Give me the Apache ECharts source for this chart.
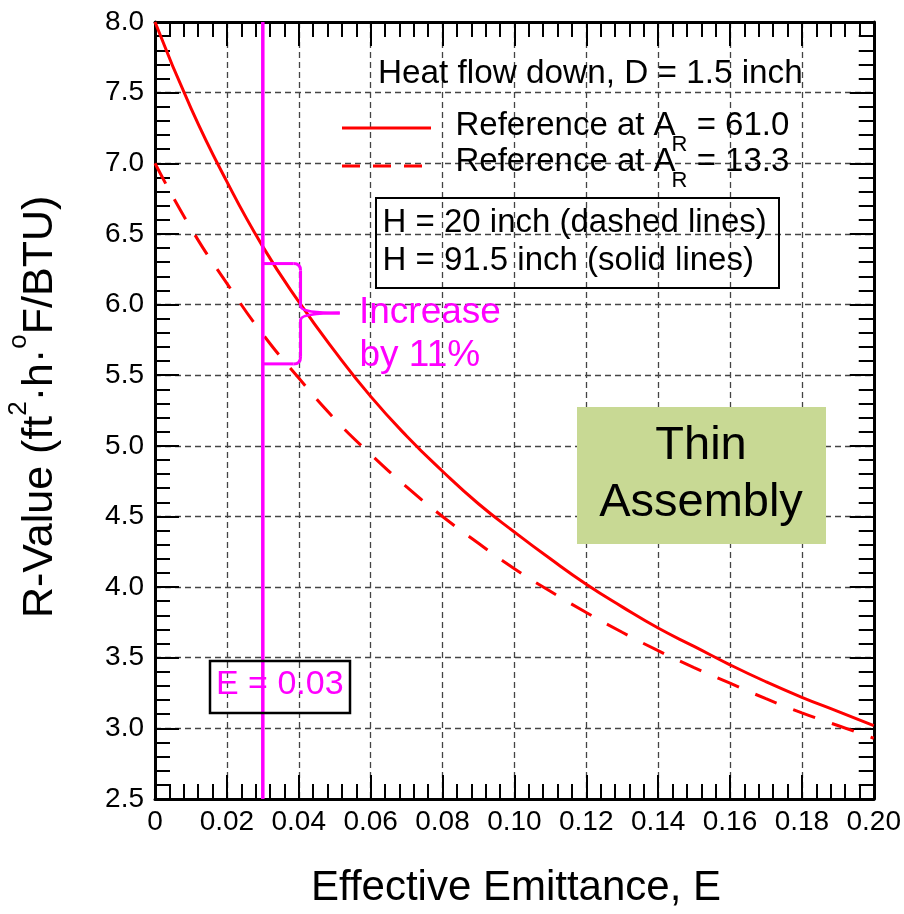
<!DOCTYPE html>
<html><head><meta charset="utf-8">
<script src="https://cdn.jsdelivr.net/npm/echarts@6/dist/echarts.min.js"></script>
<style>html,body{margin:0;padding:0;background:#fff}#c{width:904px;height:914px}</style>
</head><body><div id="c"></div>
<script>
// ---- data ----
const emittance = [0,0.01,0.02,0.03,0.04,0.05,0.06,0.07,0.08,0.09,0.10,0.11,0.12,0.13,0.14,0.15,0.16,0.17,0.18,0.19,0.20];
const rSolid  = [8.00,7.39,6.87,6.41,6.02,5.67,5.35,5.07,4.82,4.59,4.39,4.20,4.02,3.86,3.71,3.58,3.45,3.33,3.22,3.12,3.02];
const rDashed = [7.00,6.54,6.15,5.79,5.48,5.19,4.94,4.71,4.50,4.31,4.13,3.97,3.82,3.68,3.55,3.43,3.32,3.21,3.11,3.02,2.93];
const xMin = 0, xMax = 0.20, xStep = 0.02;
const yMin = 2.5, yMax = 8.0, yStep = 0.5;
const markE = 0.03;
const bracketE = [0.03, 0.0405, 0.0514];   // start, spine, tip
const bracketR = [6.29, 5.94, 5.58];       // top, tip, bottom

const FONT = '"Liberation Sans", Arial, Helvetica, sans-serif';
const RED = '#ff0000', MAG = '#ff00ff';

const chart = echarts.init(document.getElementById('c'), null, {renderer:'canvas'});
const ctx = document.createElement('canvas').getContext('2d');
function tw(t, s){ ctx.font = s + 'px "Liberation Sans"'; return ctx.measureText(t).width; }
function txt(t, x, y, s, color, align){
  return {type:'text', x:x, y:y, z:100, style:{text:t, fontSize:s, fontFamily:FONT, fill:color||'#000',
    align:align||'left', verticalAlign:'middle', textAlign:align||'left', textVerticalAlign:'middle'}};
}
function run(parts, x, y, color){
  const out = []; let cx = x;
  parts.forEach(p => { out.push(txt(p[0], cx + (p[3]||0), y + (p[2]||0), p[1], color)); cx += tw(p[0], p[1]) + (p[3]||0); });
  return out;
}

const axisCommon = {
  axisLine:{show:true, onZero:false, lineStyle:{color:'#000', width:3}},
  axisTick:{show:true, inside:true, length:24, lineStyle:{color:'#000', width:2}},
  minorTick:{show:true, splitNumber:5, length:15, lineStyle:{color:'#000', width:2}},
};
const labelStyle = {color:'#000', fontSize:28, fontFamily:FONT};

const option = {
  backgroundColor:'#fff',
  animation:false,
  grid:{left:155, top:22, width:719, height:777, containLabel:false},
  xAxis:[
    Object.assign({type:'value', min:xMin, max:xMax, interval:xStep, position:'bottom',
      axisLabel:Object.assign({margin:9, formatter:v => v === 0 ? '0' : v.toFixed(2)}, labelStyle),
      splitLine:{show:true, lineStyle:{color:'#444', width:1.3, type:[6,4]}}}, axisCommon),
    Object.assign({type:'value', min:xMin, max:xMax, interval:xStep, position:'top',
      axisLabel:{show:false}, splitLine:{show:false}}, axisCommon)
  ],
  yAxis:[
    Object.assign({type:'value', min:yMin, max:yMax, interval:yStep, position:'left',
      axisLabel:Object.assign({margin:11, formatter:v => v.toFixed(1)}, labelStyle),
      splitLine:{show:true, lineStyle:{color:'#444', width:1.3, type:[6,4]}}}, axisCommon),
    Object.assign({type:'value', min:yMin, max:yMax, interval:yStep, position:'right',
      axisLabel:{show:false}, splitLine:{show:false}}, axisCommon)
  ],
  series:[
    {type:'line', data:emittance.map((e,i)=>[e, rSolid[i]]), smooth:true, showSymbol:false, z:5,
      lineStyle:{color:RED, width:3}},
    {type:'line', data:emittance.map((e,i)=>[e, rDashed[i]]), smooth:true, showSymbol:false, z:5,
      lineStyle:{color:RED, width:3, type:[23,18]}},
    {type:'line', data:[[markE, yMin],[markE, yMax]], showSymbol:false, z:6,
      lineStyle:{color:MAG, width:3.5}}
  ]
};
chart.setOption(option);

const P = (x,y) => chart.convertToPixel({gridIndex:0}, [x,y]);
const x0 = P(bracketE[0], 0)[0], xs = P(bracketE[1],0)[0], xt = P(bracketE[2],0)[0];
const yT = P(0, bracketR[0])[1], yM = P(0, bracketR[1])[1], yB = P(0, bracketR[2])[1];
const r = 7;
const bs = {fill:'none', stroke:MAG, lineWidth:3};
function ln(a,b,c,d){ return {type:'line', z:100, shape:{x1:a,y1:b,x2:c,y2:d}, style:bs}; }
function bz(a,b,c,d,e,f){ return {type:'bezierCurve', z:100, shape:{x1:a,y1:b,cpx1:c,cpy1:d,x2:e,y2:f}, style:bs}; }

const g = [];
// Thin Assembly box
g.push({type:'rect', z:90, shape:{x:577, y:407, width:249, height:137}, style:{fill:'#c8d994'}});
g.push(txt('Thin', 701, 446, 47, '#000', 'center'));
g.push(txt('Assembly', 701, 503, 47, '#000', 'center'));
// Heat flow title
g.push(txt('Heat flow down, D = 1.5 inch', 378, 73.5, 33.3));
// legend lines
g.push({type:'line', z:100, shape:{x1:342, y1:128, x2:431, y2:128}, style:{stroke:RED, lineWidth:3}});
g.push({type:'line', z:100, shape:{x1:342, y1:166, x2:431, y2:166}, style:{stroke:RED, lineWidth:3, lineDash:[18,13]}});
run([['Reference at A',33],['R',22,19,-4],[' = 61.0',33]], 455.5, 125.5).forEach(e=>g.push(e));
run([['Reference at A',33],['R',22,19,-4],[' = 13.3',33]], 455.5, 162).forEach(e=>g.push(e));
// H box
g.push({type:'rect', z:100, shape:{x:376, y:198, width:403, height:90}, style:{fill:'none', stroke:'#000', lineWidth:2}});
g.push(txt('H = 20 inch (dashed lines)', 382.5, 223, 33));
g.push(txt('H = 91.5 inch (solid lines)', 382.5, 261, 33));
// bracket
g.push(ln(x0, yT, xs-r, yT));
g.push(bz(xs-r, yT, xs, yT, xs, yT+r));
g.push(ln(xs, yT+r, xs, yM-7));
g.push(bz(xs, yM-7, xs, yM, xt, yM));
g.push(bz(xt, yM, xs, yM, xs, yM+7));
g.push(ln(xs, yM+7, xs, yB-r));
g.push(bz(xs, yB-r, xs, yB, xs-r, yB));
g.push(ln(xs-r, yB, x0, yB));
g.push(txt('Increase', 359, 312.5, 37, MAG));
g.push(txt('by 11%', 359.5, 356, 37, MAG));
// E = 0.03 box
g.push({type:'rect', z:100, shape:{x:210, y:661, width:140, height:52}, style:{fill:'none', stroke:'#000', lineWidth:2.5}});
g.push(txt('E = 0.03', 216, 685, 34, MAG));
// axis titles
g.push(txt('Effective Emittance, E', 516, 888, 42, '#000', 'center'));
g.push({type:'group', x:40, y:618, rotation:Math.PI/2, z:100,
  children: run([['R-Value (ft',43],['2',26,-21],['·h·',43],['o',26,-21],['F/BTU)',43]], 0, 0)});

chart.setOption({graphic:{elements:g}});
</script>
</body></html>
